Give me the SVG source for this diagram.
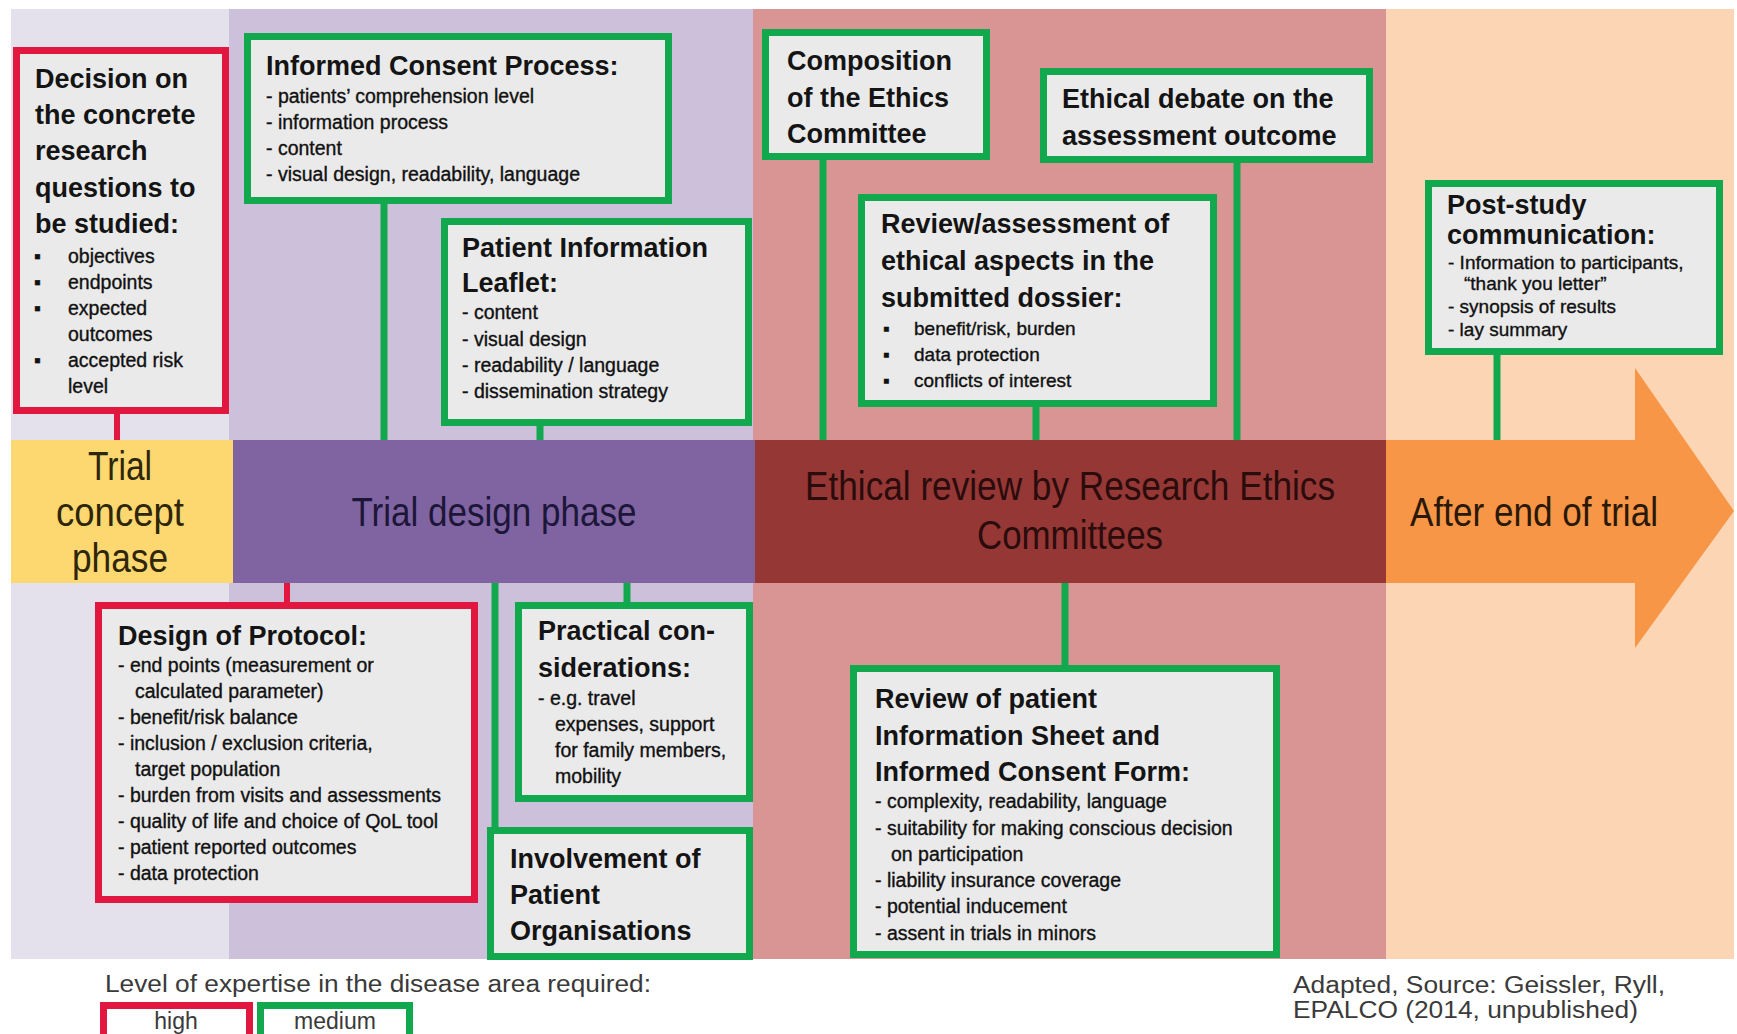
<svg xmlns="http://www.w3.org/2000/svg" width="1737" height="1034" viewBox="0 0 1737 1034">
<style>
.bg{stroke:none}
.bx{fill:#EAEAEA;stroke-width:7}
.g{stroke:#12A84E}
.r{stroke:#E2173F}
.t{font-family:"Liberation Sans",Arial,sans-serif;font-weight:bold;font-size:27px;fill:#141414}
.i{font-family:"Liberation Sans",Arial,sans-serif;font-size:19.5px;fill:#111;stroke:#111;stroke-width:0.35}
.s{font-family:"Liberation Sans",Arial,sans-serif;font-size:19px;fill:#111;stroke:#111;stroke-width:0.35}
.bd{font-family:"Liberation Sans",Arial,sans-serif;font-size:40px;text-anchor:middle}
.lg{font-family:"Liberation Sans",Arial,sans-serif;font-size:23px;fill:#3a3a3a}
.cg{stroke:#12A84E;stroke-width:7;fill:none}
.cr{stroke:#E2173F;stroke-width:6;fill:none}
</style>
<rect width="1737" height="1034" fill="#FFFFFF"/>
<g id="backgrounds">
<rect class="bg" x="11" y="9" width="218" height="950" fill="#E5E1EC"/>
<rect class="bg" x="229" y="9" width="524" height="950" fill="#CCC0DA"/>
<rect class="bg" x="753" y="9" width="633" height="950" fill="#D99594"/>
<rect class="bg" x="1386" y="9" width="348" height="950" fill="#FCD5B5"/>
</g>
<g id="timeline">
<rect x="11" y="440" width="222" height="143" fill="#FDD870"/>
<rect x="233" y="440" width="522" height="143" fill="#8064A2"/>
<rect x="755" y="440" width="631" height="143" fill="#953735"/>
<polygon points="1386,440 1635,440 1635,368 1734,511 1635,648 1635,583 1386,583" fill="#F79646"/>
<text class="bd" fill="#2e2608" x="120" y="480" textLength="64" lengthAdjust="spacingAndGlyphs">Trial</text>
<text class="bd" fill="#2e2608" x="120" y="526" textLength="128" lengthAdjust="spacingAndGlyphs">concept</text>
<text class="bd" fill="#2e2608" x="120" y="572" textLength="96" lengthAdjust="spacingAndGlyphs">phase</text>
<text class="bd" fill="#1c1638" x="494" y="526" textLength="285" lengthAdjust="spacingAndGlyphs">Trial design phase</text>
<text class="bd" fill="#2a0c0c" x="1070" y="500" textLength="530" lengthAdjust="spacingAndGlyphs">Ethical review by Research Ethics</text>
<text class="bd" fill="#2a0c0c" x="1070" y="549" textLength="186" lengthAdjust="spacingAndGlyphs">Committees</text>
<text class="bd" fill="#2a1808" x="1534" y="526" textLength="248" lengthAdjust="spacingAndGlyphs">After end of trial</text>
</g>
<g id="connectors">
<path class="cr" d="M117,414 L117,440"/>
<path class="cr" d="M287,583 L287,602"/>
<path class="cg" d="M384,204 L384,440"/>
<path class="cg" d="M540,426 L540,440"/>
<path class="cg" d="M823,160 L823,440"/>
<path class="cg" d="M1036,407 L1036,440"/>
<path class="cg" d="M1237,163 L1237,440"/>
<path class="cg" d="M1497,355 L1497,440"/>
<path class="cg" d="M495,583 L495,827"/>
<path class="cg" d="M627,583 L627,602"/>
<path class="cg" d="M1065,583 L1065,665"/>
</g>
<g id="decision">
<rect class="bx r" x="16.5" y="50.5" width="209" height="360"/>
<text class="t" x="35" y="88">Decision on</text>
<text class="t" x="35" y="124">the concrete</text>
<text class="t" x="35" y="160">research</text>
<text class="t" x="35" y="197">questions to</text>
<text class="t" x="35" y="233">be studied:</text>
<g class="i">
<text x="34" y="263">▪</text><text x="68" y="263">objectives</text>
<text x="34" y="289">▪</text><text x="68" y="289">endpoints</text>
<text x="34" y="315">▪</text><text x="68" y="315">expected</text>
<text x="68" y="341">outcomes</text>
<text x="34" y="367">▪</text><text x="68" y="367">accepted risk</text>
<text x="68" y="393">level</text>
</g>
</g>
<g id="informed-consent">
<rect class="bx g" x="247.5" y="36.5" width="421" height="164"/>
<text class="t" x="266" y="75">Informed Consent Process:</text>
<text class="i" x="266" y="103">- patients’ comprehension level</text>
<text class="i" x="266" y="129">- information process</text>
<text class="i" x="266" y="155">- content</text>
<text class="i" x="266" y="181">- visual design, readability, language</text>
</g>
<g id="patient-leaflet">
<rect class="bx g" x="444.5" y="221.5" width="304" height="201"/>
<text class="t" x="462" y="257">Patient Information</text>
<text class="t" x="462" y="292">Leaflet:</text>
<text class="i" x="462" y="319">- content</text>
<text class="i" x="462" y="346">- visual design</text>
<text class="i" x="462" y="372">- readability / language</text>
<text class="i" x="462" y="398">- dissemination strategy</text>
</g>
<g id="composition">
<rect class="bx g" x="765.5" y="32.5" width="221" height="124"/>
<text class="t" x="787" y="70">Composition</text>
<text class="t" x="787" y="107">of the Ethics</text>
<text class="t" x="787" y="143">Committee</text>
</g>
<g id="ethical-debate">
<rect class="bx g" x="1043.5" y="71.5" width="326" height="88"/>
<text class="t" x="1062" y="108">Ethical debate on the</text>
<text class="t" x="1062" y="145">assessment outcome</text>
</g>
<g id="review-assessment">
<rect class="bx g" x="861.5" y="197.5" width="352" height="206"/>
<text class="t" x="881" y="233">Review/assessment of</text>
<text class="t" x="881" y="270">ethical aspects in the</text>
<text class="t" x="881" y="307">submitted dossier:</text>
<g class="s">
<text x="883" y="335">▪</text><text x="914" y="335">benefit/risk, burden</text>
<text x="883" y="361">▪</text><text x="914" y="361">data protection</text>
<text x="883" y="387">▪</text><text x="914" y="387">conflicts of interest</text>
</g>
</g>
<g id="post-study">
<rect class="bx g" x="1428.5" y="183.5" width="291" height="168"/>
<text class="t" x="1447" y="214">Post-study</text>
<text class="t" x="1447" y="244">communication:</text>
<text class="s" x="1448" y="269">- Information to participants,</text>
<text class="s" x="1464" y="290">“thank you letter”</text>
<text class="s" x="1448" y="313">- synopsis of results</text>
<text class="s" x="1448" y="336">- lay summary</text>
</g>
<g id="design-protocol">
<rect class="bx r" x="98.5" y="605.5" width="376" height="294"/>
<text class="t" x="118" y="645">Design of Protocol:</text>
<text class="i" x="118" y="672">- end points (measurement  or</text>
<text class="i" x="135" y="698">calculated parameter)</text>
<text class="i" x="118" y="724">- benefit/risk balance</text>
<text class="i" x="118" y="750">- inclusion / exclusion criteria,</text>
<text class="i" x="135" y="776">target population</text>
<text class="i" x="118" y="802">- burden from visits and assessments</text>
<text class="i" x="118" y="828">- quality of life and choice of QoL tool</text>
<text class="i" x="118" y="854">- patient reported outcomes</text>
<text class="i" x="118" y="880">- data protection</text>
</g>
<g id="practical">
<rect class="bx g" x="518.5" y="605.5" width="231" height="193"/>
<text class="t" x="538" y="640">Practical con-</text>
<text class="t" x="538" y="677">siderations:</text>
<text class="i" x="538" y="705">- e.g. travel</text>
<text class="i" x="555" y="731">expenses, support</text>
<text class="i" x="555" y="757">for family members,</text>
<text class="i" x="555" y="783">mobility</text>
</g>
<g id="involvement">
<rect class="bx g" x="490.5" y="830.5" width="259" height="126"/>
<text class="t" x="510" y="868">Involvement of</text>
<text class="t" x="510" y="904">Patient</text>
<text class="t" x="510" y="940">Organisations</text>
</g>
<g id="review-patient-info">
<rect class="bx g" x="853.5" y="668.5" width="423" height="286"/>
<text class="t" x="875" y="708">Review of patient</text>
<text class="t" x="875" y="745">Information Sheet and</text>
<text class="t" x="875" y="781">Informed Consent Form:</text>
<text class="i" x="875" y="808">- complexity, readability, language</text>
<text class="i" x="875" y="835">- suitability for making conscious decision</text>
<text class="i" x="891" y="861">on participation</text>
<text class="i" x="875" y="887">- liability insurance coverage</text>
<text class="i" x="875" y="913">- potential inducement</text>
<text class="i" x="875" y="940">- assent in trials in minors</text>
</g>
<g id="legend">
<text class="lg" x="105" y="992" textLength="546" lengthAdjust="spacingAndGlyphs">Level of expertise in the disease area required:</text>
<rect x="103.5" y="1005.5" width="146" height="40" fill="#FFFFFF" stroke="#E2173F" stroke-width="7"/>
<rect x="260.5" y="1005.5" width="149" height="40" fill="#FFFFFF" stroke="#12A84E" stroke-width="7"/>
<text class="lg" x="176" y="1029" text-anchor="middle">high</text>
<text class="lg" x="335" y="1029" text-anchor="middle">medium</text>
</g>
<g id="source">
<text class="lg" x="1293" y="993" textLength="372" lengthAdjust="spacingAndGlyphs">Adapted, Source: Geissler, Ryll,</text>
<text class="lg" x="1293" y="1018" textLength="345" lengthAdjust="spacingAndGlyphs">EPALCO (2014, unpublished)</text>
</g>
</svg>
